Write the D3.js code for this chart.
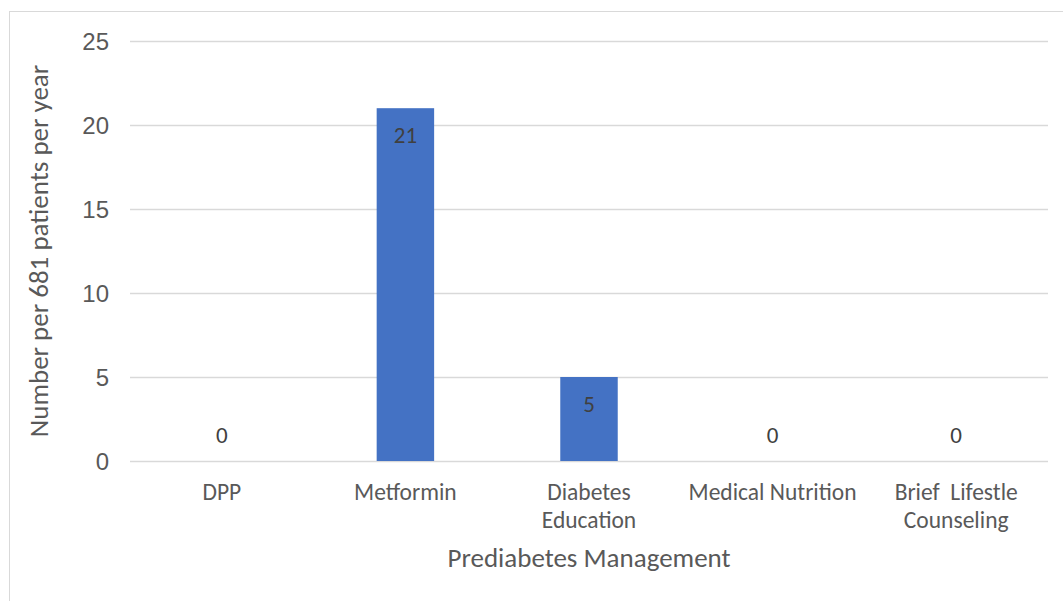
<!DOCTYPE html>
<html>
<head>
<meta charset="utf-8">
<script src="https://cdn.jsdelivr.net/npm/d3@7"></script>
<style>
  html, body { margin: 0; padding: 0; background: #fff; }
  svg { display: block; font-family: Calibri, Carlito, Lato, "Open Sans", sans-serif; }
</style>
</head>
<body>
<svg id="chart" width="1063" height="601"></svg>
<script>
// Prediabetes management counts per 681 patients per year
const categories = [["DPP"], ["Metformin"], ["Diabetes", "Education"], ["Medical Nutrition"], ["Brief  Lifestle", "Counseling"]];
const values = [0, 21, 5, 0, 0];
const yTicks = [0, 5, 10, 15, 20, 25];
const yTitle = "Number per 681 patients per year";
const xTitle = "Prediabetes Management";

const svg = d3.select("#chart");
const textColor = "#595959";

// chart frame
svg.append("rect")
  .attr("x", 9.5).attr("y", 11.5)
  .attr("width", 1063).attr("height", 601)
  .attr("fill", "none").attr("stroke", "#d9d9d9");

const plot = { left: 130, right: 1048, top: 41, bottom: 461 };

const x = d3.scaleBand()
  .domain(d3.range(categories.length))
  .range([plot.left, plot.right])
  .paddingInner(0.687)
  .paddingOuter(0.3435);

const y = d3.scaleLinear().domain([0, 25]).range([plot.bottom, plot.top]);

// gridlines
svg.append("g")
  .selectAll("line")
  .data(yTicks)
  .join("line")
  .attr("x1", plot.left).attr("x2", plot.right)
  .attr("y1", d => y(d) + 0.5).attr("y2", d => y(d) + 0.5)
  .attr("stroke", "#d9d9d9").attr("stroke-width", 1.3);

// y axis tick labels
const yAxis = d3.axisLeft(y).tickValues(yTicks).tickSize(0).tickPadding(0);
const yg = svg.append("g").attr("transform", `translate(${plot.left - 21},0)`).call(yAxis);
yg.select(".domain").remove();
yg.selectAll("text")
  .attr("fill", textColor)
  .attr("font-size", 24)
  .attr("font-family", null)
  .attr("dy", "0.35em");

// bars
svg.append("g")
  .selectAll("rect")
  .data(values)
  .join("rect")
  .attr("x", (d, i) => x(i))
  .attr("y", d => y(d))
  .attr("width", x.bandwidth())
  .attr("height", d => y(0) - y(d))
  .attr("fill", "#4472C4");

// data labels
svg.append("g")
  .selectAll("text")
  .data(values)
  .join("text")
  .attr("x", (d, i) => x(i) + x.bandwidth() / 2)
  .attr("y", d => d > 0 ? y(d) + 35 : y(d) - 18)
  .attr("text-anchor", "middle")
  .attr("font-size", 23)
  .attr("fill", "#404040")
  .text(d => d);

// category labels
const xg = svg.append("g");
categories.forEach((lines, i) => {
  const t = xg.append("text")
    .attr("x", x(i) + x.bandwidth() / 2)
    .attr("y", plot.bottom + 39)
    .attr("text-anchor", "middle")
    .attr("font-size", 23.5)
    .attr("fill", textColor)
    .style("white-space", "pre");
  lines.forEach((ln, j) => {
    t.append("tspan")
      .attr("x", x(i) + x.bandwidth() / 2)
      .attr("dy", j === 0 ? 0 : 28)
      .text(ln);
  });
});

// axis titles
svg.append("text")
  .attr("x", (plot.left + plot.right) / 2)
  .attr("y", 567)
  .attr("text-anchor", "middle")
  .attr("font-size", 27)
  .attr("fill", textColor)
  .text(xTitle);

svg.append("text")
  .attr("transform", `translate(48, ${(plot.top + plot.bottom) / 2}) rotate(-90)`)
  .attr("text-anchor", "middle")
  .attr("font-size", 27)
  .attr("fill", textColor)
  .text(yTitle);
</script>
</body>
</html>
